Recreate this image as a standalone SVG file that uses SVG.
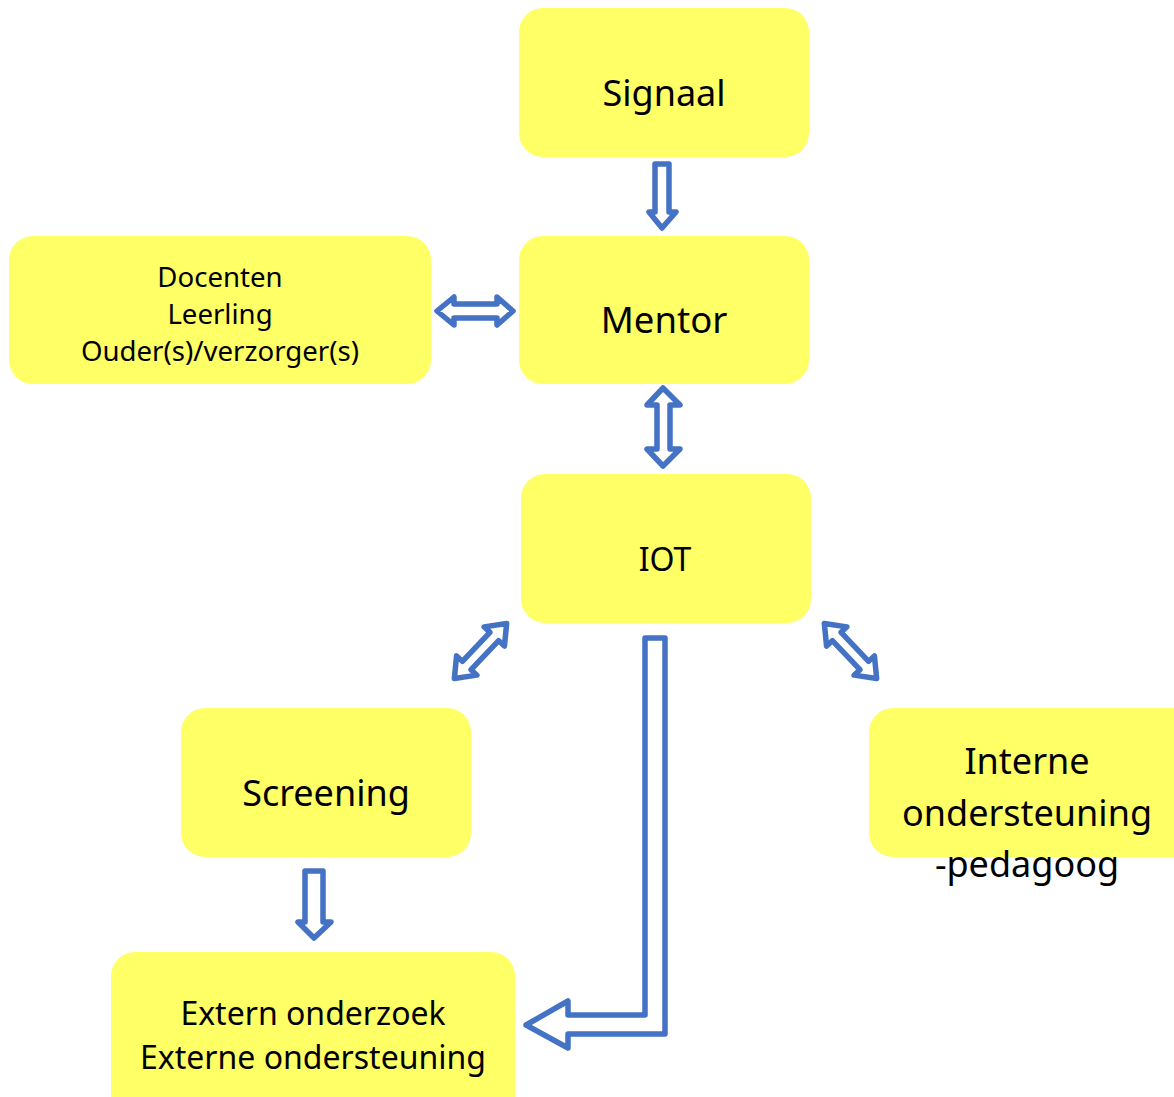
<svg xmlns="http://www.w3.org/2000/svg" width="1174" height="1097" viewBox="0 0 1174 1097">
<style>
.box{fill:#FFFF66;stroke:none}
.t{font-family:"Noto Sans","Liberation Sans",sans-serif;fill:#000;text-anchor:middle}
.arr{fill:#fff;stroke:#4472C4;stroke-width:5.5;stroke-linejoin:round}
</style>
<rect width="1174" height="1097" fill="#fff"/>
<g id="signaal"><rect class="box" x="519" y="8" width="290" height="149" rx="24"/><text class="t" x="664" y="106" font-size="36">Signaal</text></g>
<g id="mentor"><rect class="box" x="519" y="236" width="290" height="148" rx="24"/><text class="t" x="664" y="333" font-size="36.5">Mentor</text></g>
<g id="docenten"><rect class="box" x="9" y="236" width="422" height="148" rx="24"/>
<text class="t" x="220" y="287" font-size="27.6">Docenten</text>
<text class="t" x="220" y="324" font-size="27.6">Leerling</text>
<text class="t" x="220" y="361" font-size="27.6">Ouder(s)/verzorger(s)</text></g>
<g id="iot"><rect class="box" x="521" y="474" width="290" height="149" rx="24"/><text class="t" x="665" y="571" font-size="32">IOT</text></g>
<g id="screening"><rect class="box" x="181" y="708" width="290" height="149" rx="24"/><text class="t" x="326" y="806" font-size="36">Screening</text></g>
<g id="interne"><rect class="box" x="869" y="708" width="330" height="149" rx="24"/>
<text class="t" x="1027" y="774" font-size="36">Interne</text>
<text class="t" x="1027" y="826" font-size="36">ondersteuning</text>
<text class="t" x="1027" y="877" font-size="36">-pedagoog</text></g>
<g id="extern"><rect class="box" x="111" y="952" width="404" height="170" rx="24"/>
<text class="t" x="313" y="1025" font-size="32">Extern onderzoek</text>
<text class="t" x="313" y="1069" font-size="32">Externe ondersteuning</text></g>
<g id="connectors">
<polygon class="arr" points="655,164 669,164 669,212 676,212 662,228 649,212 655,212"/>
<polygon class="arr" points="437,311 454,297 454,304 497,304 497,297 513,311 497,325 497,318 454,318 454,325"/>
<polygon class="arr" points="663,388 680,405 670,405 670,449 680,449 663,466 647,449 657,449 657,405 647,405"/>
<polygon class="arr" transform="translate(480.5,651) rotate(-46.5)" points="-38,0 -20,-14 -20,-6 20,-6 20,-14 38,0 20,14 20,6 -20,6 -20,14"/>
<polygon class="arr" transform="translate(850.5,651) rotate(46.5)" points="-38,0 -20,-14 -20,-6 20,-6 20,-14 38,0 20,14 20,6 -20,6 -20,14"/>
<polygon class="arr" points="305,871 323,871 323,922 331,922 314,938 298,922 305,922"/>
<polygon class="arr" points="645,638 665,638 665,1034 568,1034 568,1048 526,1025 568,1001 568,1015 645,1015"/>
</g>
</svg>
